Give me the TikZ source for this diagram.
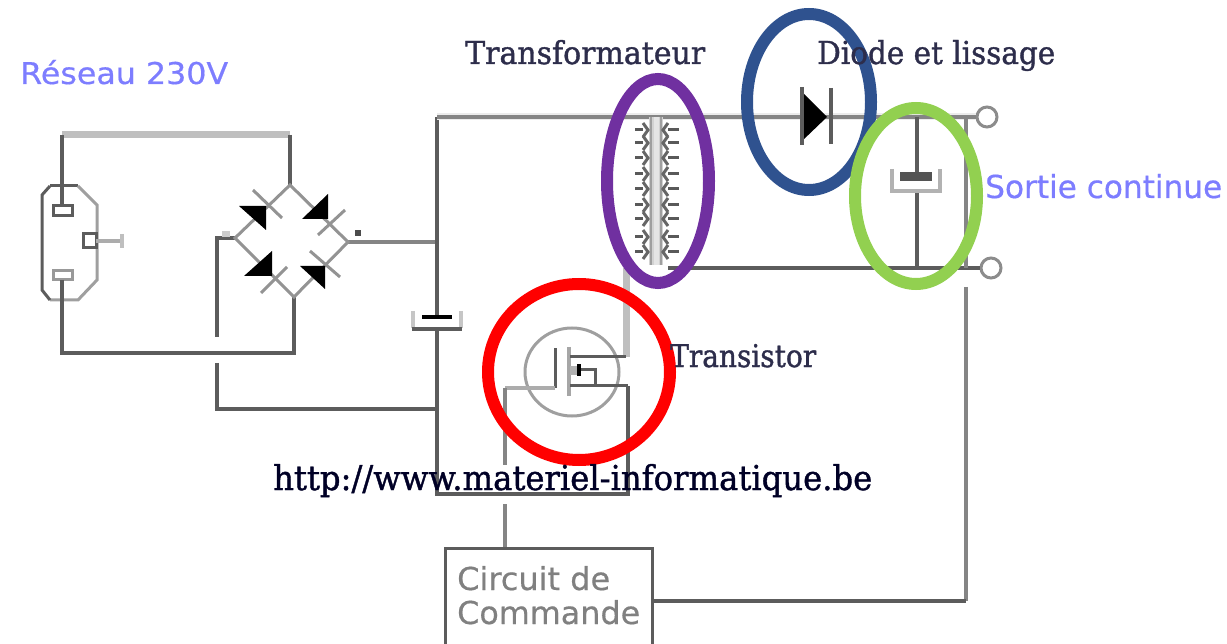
\documentclass[tikz,border=0pt]{standalone}
\usepackage{graphicx}
\usepackage{fontspec}
\setmainfont{Liberation Sans}
\newfontfamily\djvfont[FakeBold=0.5]{DejaVu Sans}
\newfontfamily\lsfont[FakeBold=1.2]{DejaVu Serif}
\definecolor{wire}{gray}{0.36}
\definecolor{wirel}{gray}{0.52}
\definecolor{lbl}{RGB}{125,125,255}
\definecolor{dk}{RGB}{45,45,75}
\definecolor{ringred}{RGB}{255,0,0}
\definecolor{ringpurple}{RGB}{112,48,160}
\definecolor{ringblue}{RGB}{47,82,143}
\definecolor{ringgreen}{RGB}{146,208,80}
\tikzset{
  w/.style={draw=wire,line width=3.2pt},
  wl/.style={draw=wirel,line width=4pt},
  wp/.style={draw=gray!85,line width=3pt},
  ring/.style={line width=12pt},
  txt/.style={inner sep=0pt,anchor=base west},
  term/.style={circle,draw=gray!90,line width=3pt,fill=white,minimum size=20pt,inner sep=0pt},
}
\newcommand{\fitw}[3]{\resizebox{#1pt}{#2pt}{#3}}
\begin{document}
\begin{tikzpicture}[x=1pt,y=-1pt]
\useasboundingbox (0,0) rectangle (1227,644);
% junctions
\coordinate (pt) at (62,206); \coordinate (ptu) at (62,135);
\coordinate (br) at (290,135); \coordinate (bT) at (290,185);
\coordinate (bR) at (348,242); \coordinate (bB) at (294,297); \coordinate (bL) at (235,238);
\coordinate (pb) at (62,280); \coordinate (pbd) at (62,353); \coordinate (bbd) at (294,353);
\coordinate (lk) at (217,238); \coordinate (le) at (217,337);
\coordinate (ls) at (217,363); \coordinate (lc) at (217,409); \coordinate (lj) at (437,409);
\coordinate (hj) at (437,242); \coordinate (hc) at (437,117);
\coordinate (capT) at (437,317); \coordinate (capB) at (437,329);
\coordinate (hb) at (437,494); \coordinate (hbr) at (628,494); \coordinate (src) at (628,386);
\coordinate (tT) at (656,117); \coordinate (tB) at (656,265);
\coordinate (c2T) at (917,117); \coordinate (c2t) at (917,177); \coordinate (c2b) at (917,191); \coordinate (c2B) at (917,268);
\coordinate (rv1) at (966,117); \coordinate (rv2) at (966,268); \coordinate (rv3) at (966,287); \coordinate (rv4) at (966,601);
\coordinate (dr) at (626,357); \coordinate (drb) at (626,268);
\coordinate (gl) at (505,388); \coordinate (gi) at (555,388);
\node[term] (t1) at (987,117) {};
\node[term] (t2) at (991,268) {};
% plug
\draw[wire,line width=3pt] (50,186) -- (78,186);
\draw[gray!75,line width=3pt] (78,186) -- (97,205) -- (97,280) -- (78,300) -- (50,300);
\draw[wire,line width=3pt] (50,300) -- (42,290) -- (42,195) -- (50,186);
\draw[w,line width=3pt] (53,206) rectangle (72,216);
\draw[w,line width=3pt,draw=gray!80] (53,271) rectangle (72,280);
\draw[w,line width=3pt] (83,234) rectangle (96,248);
\coordinate (pin) at (122,241);
\draw[wl,draw=gray!65] (96,241) -- (pin);
\draw[draw=gray!50,line width=4pt] (122,234) -- (122,248);
% mains wires
\draw[draw=lightgray,line width=7pt] (ptu) -- (br);
\draw[w] (pt) -- (ptu);
\draw[w] (br) -- (bT);
\draw[w] (pb) -- (pbd) -- (bbd) -- (bB);
\draw[w] (bL) -- (lk) -- (le);
\draw[w] (ls) -- (lc) -- (lj);
\draw[wl] (bR) -- (hj);
% bridge
\draw[wp] (bT) -- (bR) -- (bB) -- (bL) -- cycle;
\draw[wp] (253,190) -- (282,218);
\draw[wp] (318,235) -- (345,210);
\draw[wp] (261,293) -- (287,267);
\draw[wp] (310,251) -- (340,277);
\fill[black] (239,206) -- (266,206) -- (266,230) -- cycle;
\fill[black] (302,219) -- (328,219) -- (328,194) -- cycle;
\fill[black] (272,251) -- (272,276) -- (244,276) -- cycle;
\fill[black] (300,266) -- (325,266) -- (325,289) -- cycle;
\fill[gray!40] (222,231) rectangle (230,237);
\fill[gray!60!black] (355,230) rectangle (361,236);
% left bus and cap
\draw[w] (hc) -- (capT);
\draw[w] (capB) -- (hb) -- (hbr) -- (src);
\draw[draw=black,line width=4pt] (422,317) -- (452,317);
\draw[draw=gray!45,line width=4pt] (413,311) -- (413,328);
\draw[draw=gray!45,line width=4pt] (461,311) -- (461,328);
\draw[draw=wire,line width=3.6pt] (412,329) -- (462,329);
% top rail
\draw[draw=gray!15,line width=7pt] (hc) -- (t1);
\draw[wl] (hc) -- (t1);
% lower rail
\draw[w] (668,268) -- (c2B) -- (rv2) -- (t2);
% transformer
\draw[draw=gray!35,line width=14pt] (tT) -- (tB);
\draw[draw=gray!75,line width=1.6pt] (651,117) -- (651,265) (661,117) -- (661,265);
\draw[draw=gray!20,line width=5pt] (tT) -- (tB);
\foreach \y in {130,143,158,174,189,205,219,237,252}{
  \draw[draw=gray!70!black,line width=3pt] (635,\y) -- (643,\y);
  \draw[draw=gray!70!black,line width=3pt] (668,\y) -- (679,\y);
  \draw[draw=gray!80!black,line width=3pt] (643,\y-7) -- (648,\y) -- (643,\y+7);
  \draw[draw=gray!80!black,line width=3pt] (668,\y-7) -- (663,\y) -- (668,\y+7);
}
\draw[draw=lightgray,line width=7pt] (drb) -- (dr);
% diode
\fill[black] (802,92) -- (802,141) -- (827,117) -- cycle;
\draw[draw=wire,line width=3.6pt] (802,87) -- (802,145);
\draw[draw=wire,line width=3.6pt] (831,88) -- (831,144);
% output cap
\draw[draw=wire,line width=3.2pt] (c2T) -- (c2t);
\draw[draw=wire,line width=3.2pt] (c2b) -- (c2B);
\fill[gray!65!black] (900,172) rectangle (932,181);
\draw[draw=gray!60,line width=4pt] (892,169) -- (892,191) -- (940,191) -- (940,169);
% right rail
\draw[draw=wirel,line width=3.6pt] (rv1) -- (rv2);
\draw[draw=wirel,line width=3.6pt] (rv3) -- (rv4);
\draw[w] (651,601) -- (rv4);
% transistor
\draw[draw=gray!75,line width=3pt] (572,372) ellipse (47 and 44);
\draw[w,line width=3pt] (gi) -- (555,348);
\draw[draw=gray!65,line width=3.6pt] (gi) -- (gl);
\draw[draw=gray!70,line width=4pt] (569,347) -- (569,396);
\draw[w,line width=3pt] (570,357) -- (dr);
\draw[w,line width=3pt] (570,386) -- (src);
\draw[draw=wire,line width=3pt] (595,386) -- (595,370) -- (575,370);
\fill[black] (577,364) rectangle (581,376);
\fill[gray!60] (570,366) rectangle (577,375);
\draw[wl] (gl) -- (505,465);
\draw[wl] (505,504) -- (505,547);
% control box
\node[draw=wire,line width=3.2pt,minimum width=207pt,minimum height=110pt,anchor=north west,inner sep=0pt] (box) at (444,547) {};
% rings
\draw[ring,draw=ringblue] (809,102) ellipse (62 and 88);
\draw[ring,draw=ringpurple] (658,181) ellipse (51 and 102);
\draw[ring,draw=ringgreen] (916,196) ellipse (61 and 88);
\draw[ring,draw=ringred] (579,372) ellipse (91 and 88);
% labels
\node[txt,text=lbl] (reseau) at (20,84) {\fitw{208}{24}{\djvfont Réseau 230V}};
\node[txt,text=dk] (transfo) at (465,64) {\fitw{240}{24}{\lsfont Transformateur}};
\node[txt,text=dk] (diode) at (817,64) {\fitw{238}{24}{\lsfont Diode et lissage}};
\node[txt,text=lbl] (sortie) at (985,198) {\fitw{237}{24}{\djvfont Sortie continue}};
\node[txt,text=dk] (transi) at (670,367) {\fitw{146}{23}{\lsfont Transistor}};
\node[txt,text=black!85!blue] (url) at (273,490) {\fitw{599}{26}{\lsfont http://www.materiel-informatique.be}};
\node[txt,text=gray] (c1) at (457,590) {\fitw{153}{24}{\djvfont Circuit de}};
\node[txt,text=gray] (c2) at (457,624) {\fitw{183}{24}{\djvfont Commande}};
\end{tikzpicture}
\end{document}
